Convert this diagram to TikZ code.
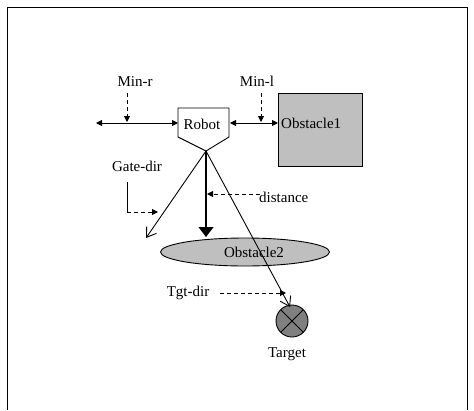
\documentclass[tikz,border=0pt]{standalone}
\usepackage{fontspec}
\setmainfont{Liberation Serif}
\usetikzlibrary{arrows.meta,shapes.geometric}
\tikzset{
  smalltip/.tip={Triangle[length=6pt,width=6pt]},
  bigtip/.tip={Triangle[length=10pt,width=15pt]},
  opentip/.tip={Straight Barb[length=9pt,width=12pt,line width=0.9pt]}
}
\begin{document}
\begin{tikzpicture}[x=1pt,y=-1pt,
  lbl/.style={inner sep=0pt,font=\fontsize{15}{17}\selectfont},
  solidln/.style={line width=0.9pt},
  dashln/.style={line width=0.9pt,dash pattern=on 4pt off 3pt}]
\useasboundingbox (0,0) rectangle (474,410);
\fill[white] (0,0) rectangle (474,410);
% frame, open at the bottom
\draw[line width=1pt] (7,410) -- (7,7) -- (467,7) -- (467,410);

% robot body
\draw[solidln] (178,108) -- (229,108) -- (229,137) -- (206,151) -- (178,137) -- cycle;
\node[lbl] (robot) at (202,124) {Robot};
\coordinate (apex) at (206,151);

% obstacle 1
\draw[solidln,fill=black!25] (278,93) rectangle (362,166);
\node[lbl,anchor=west] (obs1) at (281,123) {Obstacle1};

% obstacle 2
\draw[solidln,fill=black!25] (245,252) ellipse[x radius=84.5,y radius=14];
\node[lbl] (obs2) at (254,252) {Obstacle2};

% target
\draw[solidln,fill=black!50] (292,321) circle[radius=16];
\draw[solidln] (292,321) ++(-11.3,-11.3) -- ++(22.6,22.6);
\draw[solidln] (292,321) ++(11.3,-11.3) -- ++(-22.6,22.6);
\node[lbl] (tgt) at (287,354) {Target};

% side clearances
\coordinate (lend) at (96,123);
\coordinate (lin) at (178,123);
\coordinate (rin) at (230,123);
\coordinate (rend) at (278,123);
\draw[solidln,{smalltip}-{smalltip}] (lend) -- (lin);
\draw[solidln,{smalltip}-{smalltip}] (rin) -- (rend);

\node[lbl] (minr) at (135,82) {Min-r};
\coordinate (minrs) at (127,93);
\coordinate (minre) at (127,122);
\draw[dashln,-{smalltip}] (minrs) -- (minre);

\node[lbl] (minl) at (257,81) {Min-l};
\coordinate (minls) at (261,93);
\coordinate (minle) at (261,122);
\draw[dashln,-{smalltip}] (minls) -- (minle);

% directions from the robot
\coordinate (gate) at (146,238);
\coordinate (down) at (206,237);
\coordinate (goal) at (290,307);
\draw[solidln,-{opentip}] (apex) -- (gate);
\draw[line width=1.2pt,-{bigtip}] (apex) -- (down);
\draw[solidln,-{opentip}] (apex) -- (goal);

% gate direction
\node[lbl] (gdir) at (137,166) {Gate-dir};
\coordinate (g1) at (127,182);
\coordinate (g2) at (127,212);
\coordinate (g3) at (158,212);
\draw[solidln] (g1) -- (g2);
\draw[dashln,-{smalltip}] (g2) -- (g3);

% distance
\node[lbl,anchor=west] (dist) at (259,197) {distance};
\coordinate (d1) at (260,194);
\coordinate (d2) at (207,194);
\draw[dashln,-{smalltip}] (d1) -- (d2);

% target direction
\node[lbl] (tdir) at (188,293) {Tgt-dir};
\coordinate (t1) at (220,293);
\coordinate (t2) at (286,293);
\draw[dashln,-{smalltip}] (t1) -- (t2);
\end{tikzpicture}
\end{document}
